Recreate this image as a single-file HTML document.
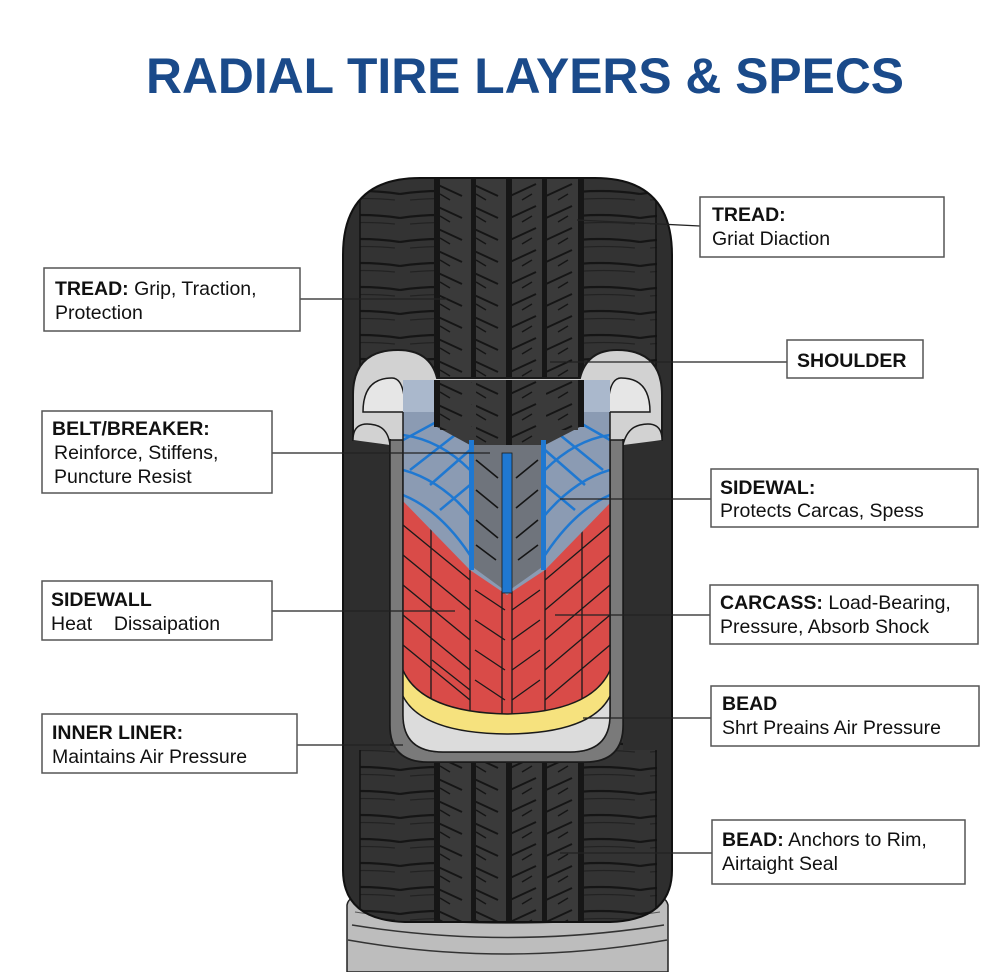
<!DOCTYPE html>
<html><head><meta charset="utf-8"><style>
html,body{margin:0;padding:0;background:#fff;}
svg{display:block;}
text{font-family:"Liberation Sans",sans-serif;}
</style></head><body>
<svg width="996" height="972" viewBox="0 0 996 972" xmlns="http://www.w3.org/2000/svg">
<defs>
  <pattern id="shL" x="0" y="180" width="80" height="24" patternUnits="userSpaceOnUse">
    <rect width="80" height="24" fill="#333"/>
    <path d="M0,14 Q40,8 80,14" stroke="#151515" stroke-width="2.2" fill="none"/>
    <path d="M10,20 Q45,17 75,20" stroke="#222" stroke-width="1.2" fill="none"/>
  </pattern>
  <pattern id="rib" x="0" y="180" width="36" height="22" patternUnits="userSpaceOnUse">
    <rect width="36" height="22" fill="#3a3a3a"/>
    <path d="M4,4 L30,16" stroke="#151515" stroke-width="2" fill="none"/>
    <path d="M8,14 L18,20" stroke="#151515" stroke-width="1.5" fill="none"/>
  </pattern>
  <pattern id="ribR" x="0" y="180" width="36" height="22" patternUnits="userSpaceOnUse">
    <rect width="36" height="22" fill="#3a3a3a"/>
    <path d="M32,4 L6,16" stroke="#151515" stroke-width="2" fill="none"/>
    <path d="M28,14 L18,20" stroke="#151515" stroke-width="1.5" fill="none"/>
  </pattern>
  <clipPath id="win">
    <path d="M403,380 L610,380 L610,715 Q610,752 570,752 L443,752 Q403,752 403,715 Z"/>
  </clipPath>
  <clipPath id="tire">
    <path d="M343,255 Q343,178 420,178 L595,178 Q672,178 672,255 L672,870 Q672,920 610,922 L405,922 Q343,920 343,870 Z"/>
  </clipPath>
</defs>

<text x="525" y="93" text-anchor="middle" font-size="50" font-weight="bold" fill="#1a4a8a" textLength="758" lengthAdjust="spacingAndGlyphs">RADIAL TIRE LAYERS &amp; SPECS</text>

<!-- Rim -->
<path d="M347,905 Q350,880 507,878 Q664,880 668,905 L668,972 L347,972 Z" fill="#bdbdbd" stroke="#222" stroke-width="1.5"/>
<path d="M352,925 Q507,950 664,925" stroke="#333" fill="none" stroke-width="1.5"/>
<path d="M348,940 Q507,968 667,940" stroke="#333" fill="none" stroke-width="1.5"/>
<path d="M355,912 Q507,935 660,912" stroke="#555" fill="none" stroke-width="1"/>

<!-- Tire body -->
<g clip-path="url(#tire)">
  <rect x="343" y="178" width="330" height="745" fill="#2e2e2e"/>
  <rect x="360" y="178" width="75" height="745" fill="url(#shL)"/>
  <rect x="582" y="178" width="75" height="745" fill="url(#shL)"/>
  <rect x="440" y="178" width="32" height="745" fill="url(#rib)"/>
  <rect x="476" y="178" width="30" height="745" fill="url(#rib)"/>
  <rect x="512" y="178" width="30" height="745" fill="url(#ribR)"/>
  <rect x="546" y="178" width="32" height="745" fill="url(#ribR)"/>
  <g fill="#161616">
    <rect x="434" y="178" width="6" height="745"/>
    <rect x="471" y="178" width="5" height="745"/>
    <rect x="506" y="178" width="6" height="745"/>
    <rect x="542" y="178" width="5" height="745"/>
    <rect x="578" y="178" width="6" height="745"/>
  </g>
  <line x1="360" y1="178" x2="360" y2="922" stroke="#111" stroke-width="1.5"/>
  <line x1="656" y1="178" x2="656" y2="922" stroke="#111" stroke-width="1.5"/>
  <!-- dark side panels beside cutaway -->
  <rect x="343" y="440" width="47" height="310" fill="#2e2e2e"/>
  <rect x="623" y="440" width="49" height="310" fill="#2e2e2e"/>
</g>
<path d="M343,255 Q343,178 420,178 L595,178 Q672,178 672,255 L672,870 Q672,920 610,922 L405,922 Q343,920 343,870 Z" fill="none" stroke="#111" stroke-width="2"/>

<!-- Cutaway outer -->
<path d="M353,440 L353,395 Q353,350 398,350 Q430,350 437,378 L580,378 Q587,350 617,350 Q662,350 662,395 L662,440 L623,440 L623,725 Q623,762 585,762 L428,762 Q390,762 390,725 L390,440 Z" fill="#d2d2d2" stroke="#1a1a1a" stroke-width="2"/>
<path d="M353,440 Q353,420 375,425 Q388,428 390,445" fill="#d2d2d2" stroke="#1a1a1a" stroke-width="1.5"/>
<path d="M662,440 Q662,420 640,425 Q627,428 623,445" fill="#d2d2d2" stroke="#1a1a1a" stroke-width="1.5"/>
<path d="M363,412 Q363,378 392,378 Q405,378 405,412 Z" fill="#e6e6e6" stroke="#1a1a1a" stroke-width="1.5"/>
<path d="M650,412 Q650,378 621,378 Q608,378 608,412 Z" fill="#e6e6e6" stroke="#1a1a1a" stroke-width="1.5"/>
<path d="M390,440 L390,725 Q390,762 428,762 L585,762 Q623,762 623,725 L623,440 L610,440 L610,715 Q610,752 570,752 L443,752 Q403,752 403,715 L403,440 Z" fill="#7a7a7a" stroke="#1a1a1a" stroke-width="1.5"/>

<!-- Window contents -->
<g clip-path="url(#win)">
  <rect x="400" y="375" width="215" height="390" fill="#d94b48"/>
  <g stroke="#1a1a1a" stroke-width="1.3" fill="none">
    <path d="M403,525 L470,580 M403,555 L470,610 M403,585 L470,640 M403,615 L470,670 M403,645 L470,700 M432,660 L470,690"/>
    <path d="M610,525 L545,580 M610,555 L545,610 M610,585 L545,640 M610,615 L545,670 M610,645 L545,700"/>
    <path d="M475,590 L505,610 M475,620 L505,640 M475,650 L505,670 M475,680 L505,700"/>
    <path d="M540,590 L512,610 M540,620 L512,640 M540,650 L512,670 M540,680 L512,700"/>
    <line x1="431" y1="400" x2="431" y2="720"/>
    <line x1="582" y1="400" x2="582" y2="720"/>
    <line x1="470" y1="560" x2="470" y2="720"/>
    <line x1="545" y1="560" x2="545" y2="720"/>
    <line x1="502" y1="590" x2="502" y2="720"/>
    <line x1="512" y1="590" x2="512" y2="720"/>
  </g>
  <path d="M400,375 L615,375 L615,498 L545,570 L507,595 L470,570 L400,498 Z" fill="#8b9bb3"/>
  <path d="M400,375 L437,375 L437,412 L403,412 Z" fill="#aab8cc"/>
  <path d="M615,375 L580,375 L580,412 L610,412 Z" fill="#aab8cc"/>
  <g stroke="#1f78d1" stroke-width="2.5" fill="none">
    <path d="M403,435 Q440,440 470,470"/>
    <path d="M403,470 Q440,480 470,515"/>
    <path d="M403,495 Q440,510 470,555"/>
    <path d="M403,440 L440,420 M410,470 L455,435 M430,485 L470,450 M440,510 L470,485"/>
    <path d="M610,435 Q575,440 545,470"/>
    <path d="M610,470 Q575,480 545,515"/>
    <path d="M610,495 Q575,510 545,555"/>
    <path d="M610,440 L575,420 M603,470 L560,435 M585,485 L545,450 M575,510 L545,485"/>
  </g>
  <!-- tread continuing into window -->
  <path d="M437,375 L580,375 L580,427 L545,445 L470,445 L437,427 Z" fill="#3a3a3a"/>
  <rect x="440" y="375" width="32" height="55" fill="url(#rib)"/>
  <rect x="476" y="375" width="30" height="70" fill="url(#rib)"/>
  <rect x="512" y="375" width="30" height="70" fill="url(#ribR)"/>
  <rect x="546" y="375" width="32" height="55" fill="url(#ribR)"/>
  <g fill="#161616">
    <rect x="434" y="375" width="6" height="52"/>
    <rect x="578" y="375" width="6" height="52"/>
    <rect x="506" y="375" width="6" height="80"/>
  </g>
  <path d="M470,445 L545,445 L545,565 L507,592 L470,565 Z" fill="#6f747c"/>
  <g stroke="#151515" stroke-width="1.6">
    <path d="M476,460 L498,478 M476,490 L498,508 M476,520 L498,538 M476,545 L496,560"/>
    <path d="M538,460 L516,478 M538,490 L516,508 M538,520 L516,538 M538,545 L518,560"/>
  </g>
  <rect x="469" y="440" width="5" height="130" fill="#1f78d1"/>
  <rect x="541" y="440" width="5" height="130" fill="#1f78d1"/>
  <rect x="502" y="453" width="10" height="140" fill="#1f78d1" stroke="#1a1a1a" stroke-width="0.8"/>
  <path d="M398,652 Q405,712 507,714 Q608,712 615,652 L615,770 L398,770 Z" fill="#f6e27e" stroke="#1a1a1a" stroke-width="1.5"/>
  <path d="M398,680 Q405,733 507,734 Q608,733 615,680 L615,770 L398,770 Z" fill="#dcdcdc" stroke="#1a1a1a" stroke-width="1.5"/>
</g>
<path d="M403,412 L403,715 Q403,752 443,752 L570,752 Q610,752 610,715 L610,412" fill="none" stroke="#1a1a1a" stroke-width="1.5"/>

<!-- Connectors -->
<g stroke="#222" stroke-width="1.3">
  <line x1="300" y1="299" x2="447" y2="299"/>
  <line x1="272" y1="453" x2="490" y2="453"/>
  <line x1="272" y1="611" x2="455" y2="611"/>
  <line x1="297" y1="745" x2="403" y2="745"/>
  <line x1="700" y1="226" x2="577" y2="220"/>
  <line x1="787" y1="362" x2="550" y2="362"/>
  <line x1="711" y1="499" x2="560" y2="499"/>
  <line x1="710" y1="615" x2="555" y2="615"/>
  <line x1="711" y1="718" x2="583" y2="718"/>
  <line x1="712" y1="853" x2="560" y2="853"/>
</g>

<g fill="#fff" stroke="#555" stroke-width="1.5">
  <rect x="44" y="268" width="256" height="63"/>
  <rect x="42" y="411" width="230" height="82"/>
  <rect x="42" y="581" width="230" height="59"/>
  <rect x="42" y="714" width="255" height="59"/>
  <rect x="700" y="197" width="244" height="60"/>
  <rect x="787" y="340" width="136" height="38"/>
  <rect x="711" y="469" width="267" height="58"/>
  <rect x="710" y="585" width="268" height="59"/>
  <rect x="711" y="686" width="268" height="60"/>
  <rect x="712" y="820" width="253" height="64"/>
</g>
<g font-size="19.5" fill="#111">
  <text x="55" y="295"><tspan font-weight="bold">TREAD:</tspan> Grip, Traction,</text>
  <text x="55" y="319">Protection</text>
  <text x="52" y="435" font-weight="bold">BELT/BREAKER:</text>
  <text x="54" y="459">Reinforce, Stiffens,</text>
  <text x="54" y="483">Puncture Resist</text>
  <text x="51" y="606" font-weight="bold">SIDEWALL</text>
  <text x="51" y="630" xml:space="preserve">Heat    Dissaipation</text>
  <text x="52" y="739" font-weight="bold">INNER LINER:</text>
  <text x="52" y="763">Maintains Air Pressure</text>
  <text x="712" y="221" font-weight="bold">TREAD:</text>
  <text x="712" y="245">Griat Diaction</text>
  <text x="797" y="367" font-weight="bold">SHOULDER</text>
  <text x="720" y="494" font-weight="bold">SIDEWAL:</text>
  <text x="720" y="517">Protects Carcas, Spess</text>
  <text x="720" y="609"><tspan font-weight="bold">CARCASS:</tspan> Load-Bearing,</text>
  <text x="720" y="633">Pressure, Absorb Shock</text>
  <text x="722" y="710" font-weight="bold">BEAD</text>
  <text x="722" y="734">Shrt Preains Air Pressure</text>
  <text x="722" y="846"><tspan font-weight="bold">BEAD:</tspan> Anchors to Rim,</text>
  <text x="722" y="870">Airtaight Seal</text>
</g>
</svg>
</body></html>
